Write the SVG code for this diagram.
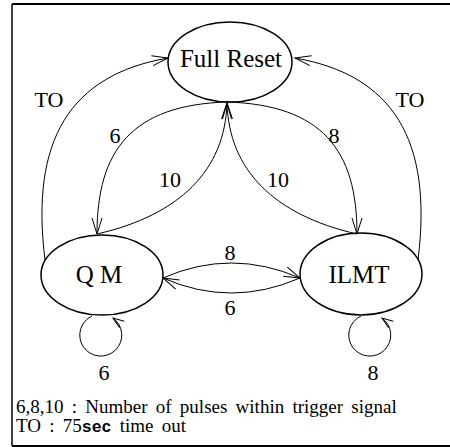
<svg xmlns="http://www.w3.org/2000/svg" width="450" height="447" viewBox="0 0 450 447">
<style>
.node{fill:none;stroke:#000;stroke-width:1.5}
.edge{fill:none;stroke:#000;stroke-width:1}
.t{fill:#000}
.nl{font-size:25px;text-anchor:middle}
.el{font-size:22px;text-anchor:middle}
.lg{font-size:19px;word-spacing:3.5px}
.mono{font-size:16.5px;font-weight:bold}
</style>
<defs>
<marker id="arr" markerUnits="userSpaceOnUse" markerWidth="40" markerHeight="40" refX="0" refY="0" orient="auto" overflow="visible">
<path d="M -16 -5 L 0 0 L -16 5" fill="none" stroke="#000" stroke-width="1"/>
</marker>
<marker id="arrS" markerUnits="userSpaceOnUse" markerWidth="30" markerHeight="30" refX="0" refY="0" orient="auto" overflow="visible">
<path d="M -11 -4 L 0 0 L -11 4" fill="none" stroke="#000" stroke-width="1"/>
</marker>
</defs>
<rect x="0" y="0" width="450" height="447" fill="#fff"/>
<g id="frame" fill="none" stroke="#000">
<path d="M 12 4 L 450 4" stroke-width="2"/>
<path d="M 12 4 L 12 446" stroke-width="1.5"/>
<path d="M 12 446 L 450 446" stroke-width="2"/>
</g>
<g id="connectors">
<path class="edge" d="M 45 260 C 30 140, 70 75, 168 58" marker-end="url(#arr)"/>
<path class="edge" d="M 418 260 C 433 140, 393 75, 295 58" marker-end="url(#arr)"/>
<path class="edge" d="M 227 102 C 132 105, 97 150, 97 234" marker-end="url(#arr)"/>
<path class="edge" d="M 97 234 C 180 215, 225 170, 227 103" marker-end="url(#arr)"/>
<path class="edge" d="M 227 102 C 322 105, 357 150, 357 234" marker-end="url(#arr)"/>
<path class="edge" d="M 357 234 C 274 215, 229 170, 227 103" marker-end="url(#arr)"/>
<path class="edge" d="M 163 278 Q 231 248 300 278" marker-end="url(#arr)"/>
<path class="edge" d="M 300 278 Q 231 308 163 278" marker-end="url(#arr)"/>
<path class="edge" d="M 92 316 A 21 21 0 1 0 113 318" marker-end="url(#arrS)"/>
<path class="edge" d="M 361 316 A 21 21 0 1 0 382 318" marker-end="url(#arrS)"/>
</g>
<g id="edge-labels" class="t el" font-family="Liberation Serif, DejaVu Serif, serif">
<text x="49" y="107">TO</text>
<text x="410" y="107">TO</text>
<text x="115" y="143">6</text>
<text x="334" y="143">8</text>
<text x="170" y="187">10</text>
<text x="278" y="187">10</text>
<text x="230" y="260">8</text>
<text x="230" y="315">6</text>
<text x="104" y="380">6</text>
<text x="373" y="380">8</text>
</g>
<g id="full-reset">
<ellipse class="node" cx="230" cy="62" rx="62" ry="40"/>
<text class="t nl" x="231" y="67" font-family="Liberation Serif, DejaVu Serif, serif">Full Reset</text>
</g>
<g id="qm">
<ellipse class="node" cx="102" cy="275" rx="61" ry="40"/>
<text class="t nl" x="99" y="283" font-family="Liberation Serif, DejaVu Serif, serif">Q M</text>
</g>
<g id="ilmt">
<ellipse class="node" cx="361" cy="274" rx="61" ry="41"/>
<text class="t nl" x="359" y="283" font-family="Liberation Serif, DejaVu Serif, serif">ILMT</text>
</g>
<g id="legend" font-family="Liberation Serif, DejaVu Serif, serif">
<text class="t lg" x="16" y="413">6,8,10 : Number of pulses within trigger signal</text>
<text class="t lg" x="16" y="432">TO : 75<tspan class="mono" font-family="Liberation Mono, DejaVu Sans Mono, monospace">sec</tspan> time out</text>
</g>
</svg>
